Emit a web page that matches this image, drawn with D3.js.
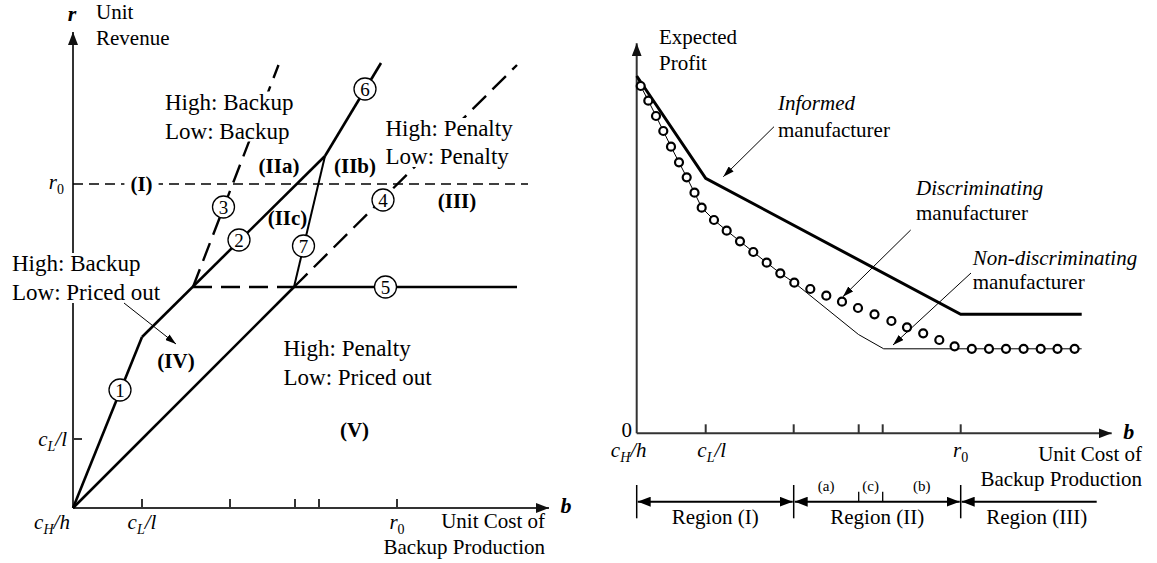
<!DOCTYPE html>
<html>
<head>
<meta charset="utf-8">
<script src="https://cdn.jsdelivr.net/npm/d3@7"></script>
<style>
    html, body { margin: 0; padding: 0; background: #fff; }
    svg { display: block; font-family: "Liberation Serif", "DejaVu Serif", serif; }
    .axis { stroke: #333; stroke-width: 2; fill: none; }
    .it { font-style: italic; }
</style>
</head>
<body>
<div id="chart"></div>
<script>
// b axis tick positions (c_H/h, c_L/l, ..., r0), same for both panels
const bTicks = [0, 6.9, 15.7, 22.2, 24.6, 32.4];
const r0 = 32.4;
const cLl = 6.9;

// left panel: region boundaries in (b, r)
const line1 = [[0, 0], [6.9, 17.1]];
const line2 = [[6.9, 17.1], [25.2, 35.2]];
const line6 = [[25.2, 35.2], [30.8, 44.5]];
const line7 = [[22.1, 22.1], [25.2, 35.2]];
const lineDiag = [[0, 0], [22.1, 22.1]];
const line5 = [[22.1, 22.1], [44.4, 22.1]];
const line3 = [[12.0, 22.1], [20.55, 44.3]];
const line4 = [[22.1, 22.1], [44.4, 44.3]];
const levelDash = [[12.0, 22.1], [22.1, 22.1]];
const r0Line = [[0, 32.4], [45.5, 32.4]];

const markerNums = [1, 2, 3, 4, 5, 6, 7];
const markerB = [4.7, 16.6, 15.05, 31.0, 31.25, 29.2, 23.05];
const markerR = [11.8, 26.8, 30.1, 30.8, 22.1, 41.9, 26.2];

// right panel: expected profit vs b
const informedB = [0, 6.9, 32.4, 44.5];
const informedV = [35.73, 25.5, 11.9, 11.9];

const nonDiscB = [0, 0.4, 1.16, 1.93, 2.66, 3.43, 4.23, 5.0, 5.78, 6.5, 7.73, 9.0, 10.33, 11.66, 13.0, 14.36, 15.76, 22.18, 24.7, 44.5];
const nonDiscV = [35.73, 34.73, 33.26, 31.73, 30.23, 28.66, 27.1, 25.6, 24.06, 22.56, 21.33, 20.26, 19.2, 18.13, 17.06, 16.0, 15.06, 9.88, 8.45, 8.45];

const discB = [0.4, 1.16, 1.93, 2.66, 3.43, 4.23, 5.0, 5.78, 6.5, 7.73, 9.0, 10.33, 11.66, 13.0, 14.36, 15.76,
    17.36, 18.96, 20.53, 22.13, 23.78, 25.47, 27.03, 28.65, 30.26, 31.79, 33.51, 35.23, 36.93, 38.69, 40.4, 42.08, 43.79];
const discV = [34.73, 33.26, 31.73, 30.23, 28.66, 27.1, 25.6, 24.06, 22.56, 21.33, 20.26, 19.2, 18.13, 17.06, 16.0, 15.06,
    14.43, 13.76, 13.16, 12.53, 11.9, 11.23, 10.6, 10.0, 9.33, 8.7, 8.45, 8.45, 8.45, 8.45, 8.45, 8.45, 8.45];

const regionNames = ['Region (I)', 'Region (II)', 'Region (III)'];
const subRegionNames = ['(a)', '(c)', '(b)'];

const W = 1157, H = 563;

const svg = d3.select('#chart').append('svg')
    .attr('width', W)
    .attr('height', H);

svg.append('rect').attr('width', W).attr('height', H).attr('fill', '#fff');

// arrowheads
const defs = svg.append('defs');
function marker(id, len, wid, color) {
    defs.append('marker')
        .attr('id', id)
        .attr('markerUnits', 'userSpaceOnUse')
        .attr('markerWidth', len)
        .attr('markerHeight', wid)
        .attr('refX', len)
        .attr('refY', wid / 2)
        .attr('orient', 'auto-start-reverse')
        .append('path')
        .attr('d', `M0,0 L${len},${wid / 2} L0,${wid} Z`)
        .attr('fill', color);
}
marker('axisArrow', 13, 10, '#111');
marker('ptr', 11, 7, '#000');
marker('regArrow', 13, 10, '#000');

// scales
const xL = d3.scaleLinear().domain([0, 47.6]).range([73, 549]);
const yL = d3.scaleLinear().domain([0, 47.6]).range([508, 32]);
const xR = d3.scaleLinear().domain([0, 47.5]).range([636.7, 1111.7]);
const yR = d3.scaleLinear().domain([0, 39]).range([433.3, 43.3]);

const lineL = d3.line().x(d => xL(d[0])).y(d => yL(d[1]));
const lineR = d3.line().x(d => xR(d[0])).y(d => yR(d[1]));

function mathLabel(g, x, y, anchor, base, sub, tail, size) {
    size = size || 21;
    const t = g.append('text')
        .attr('x', x).attr('y', y)
        .attr('text-anchor', anchor)
        .attr('font-size', size)
        .attr('class', 'it');
    t.append('tspan').text(base);
    t.append('tspan')
        .attr('dy', 5)
        .attr('font-size', 14)
        .attr('font-style', sub === '0' ? 'normal' : 'italic')
        .text(sub);
    if (tail) t.append('tspan').attr('dy', -5).text(tail);
    return t;
}

function twoLines(g, x, y, l1, l2, size, gap, style1) {
    const t = g.append('text').attr('x', x).attr('y', y).attr('font-size', size);
    t.append('tspan').attr('x', x).attr('font-style', style1 || 'normal').text(l1);
    t.append('tspan').attr('x', x).attr('dy', gap).text(l2);
    return t;
}

// white box behind a text so the lines under it are hidden
function knockout(g, t, pad) {
    const bb = t.node().getBBox();
    g.insert('rect', function() { return t.node(); })
        .attr('x', bb.x - pad).attr('y', bb.y + 2)
        .attr('width', bb.width + 2 * pad).attr('height', bb.height - 4)
        .attr('fill', '#fff');
}

// ---------------- left panel ----------------
const gl = svg.append('g');

// axes
gl.append('line').attr('class', 'axis')
    .attr('x1', xL(0)).attr('y1', yL(0))
    .attr('x2', xL(0)).attr('y2', yL(47.6))
    .attr('marker-end', 'url(#axisArrow)');
gl.append('line').attr('class', 'axis')
    .attr('x1', xL(0)).attr('y1', yL(0))
    .attr('x2', xL(47.6)).attr('y2', yL(0))
    .attr('marker-end', 'url(#axisArrow)');

gl.selectAll('.xtick')
    .data(bTicks.slice(1))
    .enter()
    .append('line')
    .attr('class', 'axis')
    .attr('x1', d => xL(d)).attr('x2', d => xL(d))
    .attr('y1', yL(0)).attr('y2', yL(0) - 9);
gl.append('line').attr('class', 'axis')
    .attr('x1', xL(0)).attr('x2', xL(0) + 9)
    .attr('y1', yL(cLl)).attr('y2', yL(cLl));

// r0 dashed level
gl.append('path')
    .attr('d', lineL(r0Line))
    .attr('fill', 'none')
    .attr('stroke', '#000')
    .attr('stroke-width', 1.4)
    .attr('stroke-dasharray', '10,6');

// dashed boundaries
[line3, line4, levelDash].forEach(function(seg) {
    gl.append('path')
        .attr('d', lineL(seg))
        .attr('fill', 'none')
        .attr('stroke', '#000')
        .attr('stroke-width', 2.4)
        .attr('stroke-dasharray', '19,9');
});

// solid boundaries
[line1, line2, line6, lineDiag, line5].forEach(function(seg) {
    gl.append('path')
        .attr('d', lineL(seg))
        .attr('fill', 'none')
        .attr('stroke', '#000')
        .attr('stroke-width', 2.6);
});
gl.append('path')
    .attr('d', lineL(line7))
    .attr('fill', 'none')
    .attr('stroke', '#000')
    .attr('stroke-width', 2);

// region texts (drawn over the lines, with white boxes)
const gt = gl.append('g');
knockout(gt, twoLines(gt, xL(9.2), yL(39.85), 'High: Backup', 'Low: Backup', 23, 29), 3);
knockout(gt, twoLines(gt, xL(31.25), yL(37.2), 'High: Penalty', 'Low: Penalty', 23, 28), 3);
knockout(gt, twoLines(gt, 12, yL(23.7), 'High: Backup', 'Low: Priced out', 23, 29), 3);
twoLines(gt, xL(21.05), yL(15.2), 'High: Penalty', 'Low: Priced out', 23, 29);

const romanText = ['(IIa)', '(IIb)', '(IIc)', '(I)', '(III)', '(IV)', '(V)'];
const romanB = [20.6, 28.2, 21.45, 6.85, 38.4, 10.3, 28.15];
const romanR = [33.5, 33.5, 28.3, 31.75, 30.0, 14.0, 7.1];
romanText.forEach(function(t, i) {
    const tx = gt.append('text')
        .attr('x', xL(romanB[i])).attr('y', yL(romanR[i]))
        .attr('text-anchor', 'middle')
        .attr('font-size', 21).attr('font-weight', 'bold')
        .text(t);
    if (t === '(I)') knockout(gt, tx, 6);
});

// pointer to (IV)
gl.append('line')
    .attr('x1', xL(5.1)).attr('y1', yL(20.5))
    .attr('x2', xL(10.3)).attr('y2', yL(16.4))
    .attr('stroke', '#000').attr('stroke-width', 1)
    .attr('marker-end', 'url(#ptr)');

// numbered markers
const mk = gl.selectAll('.mk')
    .data(markerNums)
    .enter()
    .append('g')
    .attr('transform', (d, i) => `translate(${xL(markerB[i])},${yL(markerR[i])})`);
mk.append('circle')
    .attr('r', 11)
    .attr('fill', '#fff')
    .attr('stroke', '#000')
    .attr('stroke-width', 1.3);
mk.append('text')
    .attr('text-anchor', 'middle')
    .attr('y', 7)
    .attr('font-size', 19)
    .text(d => d);

// axis labels
gl.append('text').attr('x', 72).attr('y', 21)
    .attr('text-anchor', 'middle')
    .attr('font-size', 22).attr('font-weight', 'bold').attr('font-style', 'italic')
    .text('r');
twoLines(gl, 96, 19, 'Unit', 'Revenue', 21, 26);
gl.append('text').attr('x', xL(47.6) + 17).attr('y', yL(0) + 5)
    .attr('text-anchor', 'middle')
    .attr('font-size', 22).attr('font-weight', 'bold').attr('font-style', 'italic')
    .text('b');
gl.append('text').attr('x', 545).attr('y', 528).attr('text-anchor', 'end').attr('font-size', 21).text('Unit Cost of');
gl.append('text').attr('x', 545).attr('y', 554).attr('text-anchor', 'end').attr('font-size', 21).text('Backup Production');

mathLabel(gl, xL(0) - 21, 529, 'middle', 'c', 'H', '/h');
mathLabel(gl, xL(cLl), 529, 'middle', 'c', 'L', '/l');
mathLabel(gl, xL(r0), 529, 'middle', 'r', '0');
mathLabel(gl, 67, yL(cLl) + 7, 'end', 'c', 'L', '/l');
mathLabel(gl, 64, yL(r0) + 5, 'end', 'r', '0');

// ---------------- right panel ----------------
const gr = svg.append('g');

gr.append('line').attr('class', 'axis')
    .attr('x1', xR(0)).attr('y1', yR(0))
    .attr('x2', xR(0)).attr('y2', yR(39))
    .attr('marker-end', 'url(#axisArrow)');
gr.append('line').attr('class', 'axis')
    .attr('x1', xR(0)).attr('y1', yR(0))
    .attr('x2', xR(47.5)).attr('y2', yR(0))
    .attr('marker-end', 'url(#axisArrow)');
gr.selectAll('.xtick')
    .data(bTicks.slice(1))
    .enter()
    .append('line')
    .attr('class', 'axis')
    .attr('x1', d => xR(d)).attr('x2', d => xR(d))
    .attr('y1', yR(0)).attr('y2', yR(0) - 9);

// curves
gr.append('path')
    .attr('d', lineR(d3.zip(nonDiscB, nonDiscV)))
    .attr('fill', 'none')
    .attr('stroke', '#000')
    .attr('stroke-width', 1);
gr.append('path')
    .attr('d', lineR(d3.zip(informedB, informedV)))
    .attr('fill', 'none')
    .attr('stroke', '#000')
    .attr('stroke-width', 3);
gr.selectAll('.disc')
    .data(d3.zip(discB, discV))
    .enter()
    .append('circle')
    .attr('cx', d => xR(d[0]))
    .attr('cy', d => yR(d[1]))
    .attr('r', 4)
    .attr('fill', '#fff')
    .attr('stroke', '#000')
    .attr('stroke-width', 2.2);

// labels
twoLines(gr, 659, 44, 'Expected', 'Profit', 21, 26);
gr.append('text').attr('x', 632).attr('y', yR(0) + 4).attr('text-anchor', 'end').attr('font-size', 21).text('0');
gr.append('text').attr('x', xR(47.5) + 17).attr('y', yR(0) + 6)
    .attr('text-anchor', 'middle')
    .attr('font-size', 22).attr('font-weight', 'bold').attr('font-style', 'italic')
    .text('b');
gr.append('text').attr('x', 1142).attr('y', 461).attr('text-anchor', 'end').attr('font-size', 21).text('Unit Cost of');
gr.append('text').attr('x', 1142).attr('y', 486).attr('text-anchor', 'end').attr('font-size', 21).text('Backup Production');

mathLabel(gr, xR(0) - 8, 457, 'middle', 'c', 'H', '/h');
mathLabel(gr, xR(cLl) + 6, 457, 'middle', 'c', 'L', '/l');
mathLabel(gr, xR(r0), 457, 'middle', 'r', '0');

twoLines(gr, xR(14.13), yR(32.33), 'Informed', 'manufacturer', 21, 26.5, 'italic');
twoLines(gr, xR(27.93), yR(23.83), 'Discriminating', 'manufacturer', 21, 25, 'italic');
twoLines(gr, xR(33.6), yR(16.83), 'Non-discriminating', 'manufacturer', 21, 24, 'italic');

const ptrFrom = [[13.73, 30.66], [27.4, 20.33], [33.43, 16.03]];
const ptrTo = [[8.66, 25.66], [20.62, 13.66], [25.63, 8.83]];
ptrFrom.forEach(function(p, i) {
    gr.append('line')
        .attr('x1', xR(p[0])).attr('y1', yR(p[1]))
        .attr('x2', xR(ptrTo[i][0])).attr('y2', yR(ptrTo[i][1]))
        .attr('stroke', '#000').attr('stroke-width', 1)
        .attr('marker-end', 'url(#ptr)');
});

// region bar
const regY = 501.7;
const regEdges = [bTicks[0], bTicks[2], bTicks[5], 46.0];
[regEdges[0], regEdges[1], regEdges[2]].forEach(function(b) {
    gr.append('line')
        .attr('x1', xR(b)).attr('x2', xR(b))
        .attr('y1', 485).attr('y2', 518.3)
        .attr('stroke', '#000').attr('stroke-width', 1.5);
});
[bTicks[3], bTicks[4]].forEach(function(b) {
    gr.append('line')
        .attr('x1', xR(b)).attr('x2', xR(b))
        .attr('y1', regY - 10).attr('y2', regY)
        .attr('stroke', '#000').attr('stroke-width', 1.3);
});
for (let i = 0; i < 3; i++) {
    const ln = gr.append('line')
        .attr('x1', xR(regEdges[i]) + 1).attr('x2', i < 2 ? xR(regEdges[i + 1]) - 1 : xR(regEdges[3]))
        .attr('y1', regY).attr('y2', regY)
        .attr('stroke', '#000').attr('stroke-width', 2)
        .attr('marker-start', 'url(#regArrow)');
    if (i < 2) ln.attr('marker-end', 'url(#regArrow)');
}
const regCenters = [(regEdges[0] + regEdges[1]) / 2, (regEdges[1] + regEdges[2]) / 2, 40.0];
gr.selectAll('.regname')
    .data(regionNames)
    .enter()
    .append('text')
    .attr('x', (d, i) => xR(regCenters[i]))
    .attr('y', 523.5)
    .attr('text-anchor', 'middle')
    .attr('font-size', 21)
    .text(d => d);
const subEdges = [bTicks[2], bTicks[3], bTicks[4], bTicks[5]];
gr.selectAll('.subname')
    .data(subRegionNames)
    .enter()
    .append('text')
    .attr('x', (d, i) => xR((subEdges[i] + subEdges[i + 1]) / 2))
    .attr('y', 490.5)
    .attr('text-anchor', 'middle')
    .attr('font-size', 15)
    .text(d => d);
</script>
</body>
</html>
